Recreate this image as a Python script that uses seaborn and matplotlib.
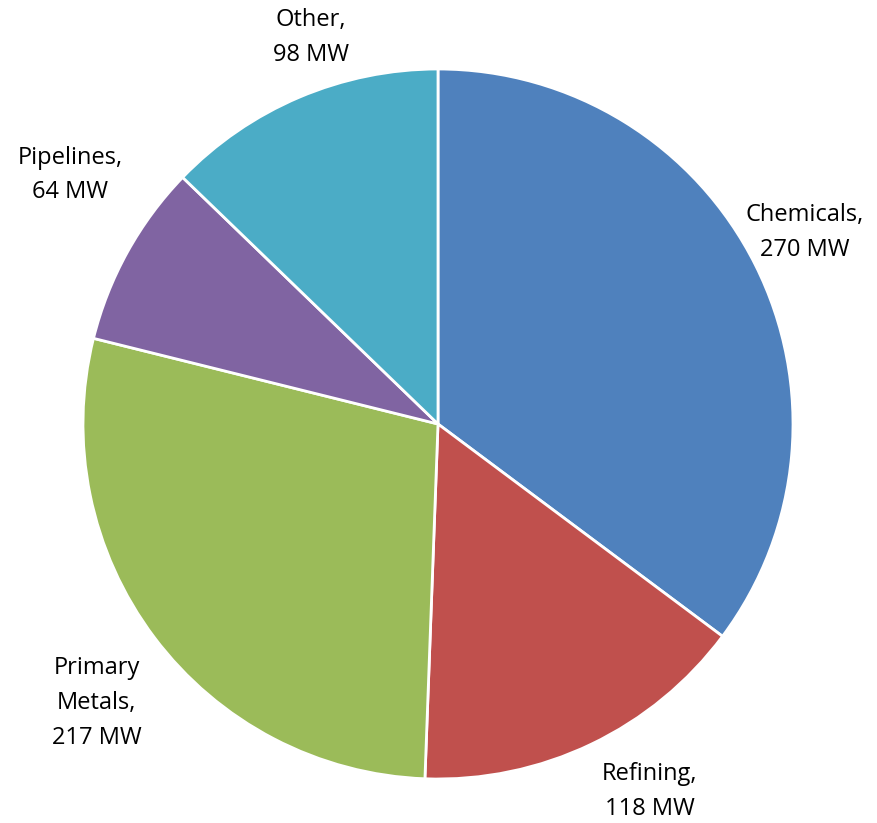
import numpy as np
import matplotlib.pyplot as plt
import seaborn as sns

sectors = ["Chemicals", "Refining", "Primary\nMetals", "Pipelines", "Other"]
capacity_mw = [270, 118, 217, 64, 98]
colors = ["#4F81BD", "#C0504D", "#9BBB59", "#8064A2", "#4BACC6"]

# label placement: radial distance and angular nudge (degrees) per slice
label_dist = [1.165, 1.194, 1.241, 1.252, 1.145]
label_shift = [1.0, 4.4, 2.3, -5.1, -4.8]

sns.set_theme(style="white")
plt.rcParams["font.family"] = ["Open Sans", "DejaVu Sans"]

fig = plt.figure(figsize=(8.77, 8.23), dpi=100)
ax = fig.add_axes([83 / 877, 44 / 823, 710 / 877, 710 / 823])

wedges, _ = ax.pie(
    capacity_mw,
    colors=colors,
    startangle=90,
    counterclock=False,
    radius=1,
    wedgeprops=dict(edgecolor="white", linewidth=2),
)
ax.set_xlim(-1, 1)
ax.set_ylim(-1, 1)
ax.set_aspect("equal")
ax.axis("off")

for w, name, val, d, sh in zip(wedges, sectors, capacity_mw, label_dist, label_shift):
    ang = np.deg2rad((w.theta1 + w.theta2) / 2 + sh)
    ax.text(d * np.cos(ang), d * np.sin(ang), f"{name},\n{val} MW",
            ha="center", va="center", fontsize=17, color="black",
            linespacing=1.6, clip_on=False)

fig.savefig("out.png", dpi=100, facecolor="white")
